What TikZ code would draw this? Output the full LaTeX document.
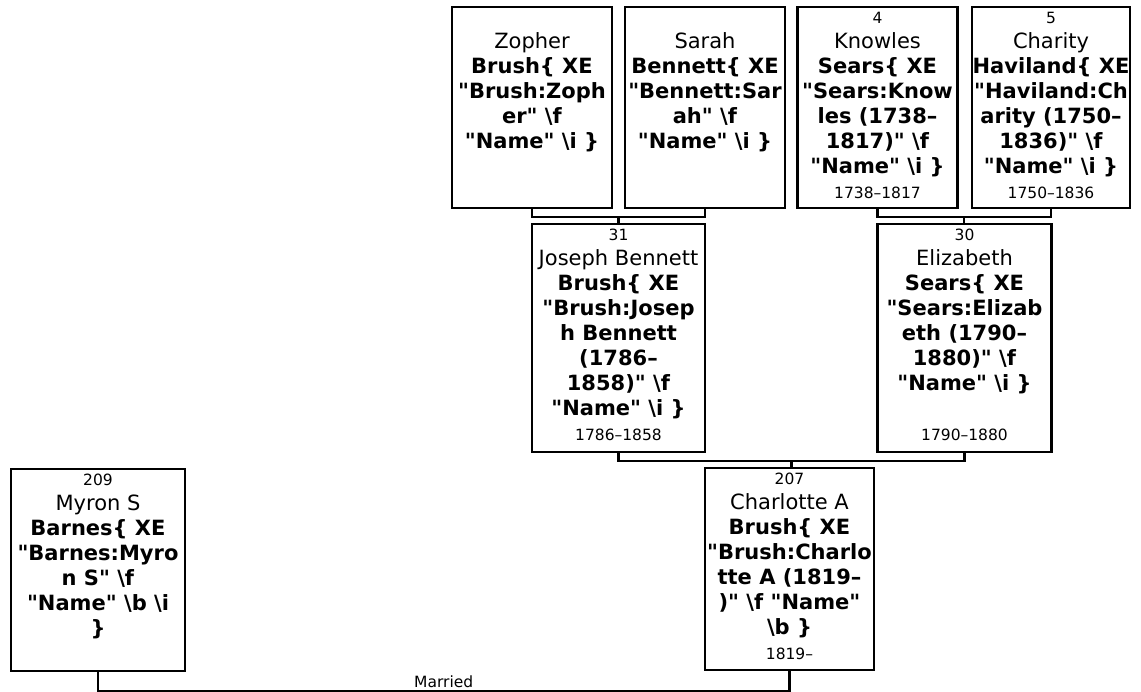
\documentclass[tikz,border=0pt]{standalone}
\usepackage{fontspec}
\setmainfont{DejaVu Sans}[Ligatures=TeXOff]
\usetikzlibrary{positioning,calc}

\newcommand\pnumfont{\fontsize{15.5}{25}\selectfont}
\newcommand\pnamefont{\fontsize{21}{25}\selectfont}
\newcommand\bsl{\textbackslash}
\newcommand\dq{\symbol{34}}
\newcommand\pnum[1]{\rule{0pt}{15pt}{\pnumfont #1}}
\newcommand\pdate[1]{{\pnumfont #1}}

\begin{document}
\begin{tikzpicture}[x=1pt, y=1pt,
    pbox/.style={rectangle, draw, line width=2.2pt, inner sep=0pt, minimum width=160pt},
    ptext/.style={align=center, inner sep=0pt, font=\pnamefont},
    conn/.style={line width=2.2pt}
]
    \useasboundingbox (0,0) rectangle (1141,692);

    % grandparents
    \node[pbox, minimum height=201pt] (zopher) at (532,584.5) {};
    \node[pbox, minimum height=201pt] (sarah) at (705,584.5) {};
    \node[pbox, minimum height=201pt] (knowles) at (877.5,584.5) {};
    \node[pbox, minimum height=201pt, minimum width=158pt] (charity) at (1051,584.5) {};

    \node[ptext, below=2pt of zopher.north] (zopher-t) {\pnum{}\\ Zopher\\
        \textbf{Brush\{ XE}\\ \textbf{\dq Brush:Zoph}\\ \textbf{er\dq\ \bsl{}f}\\
        \textbf{\dq Name\dq\ \bsl{}i \}}};
    \node[ptext, below=2pt of sarah.north] (sarah-t) {\pnum{}\\ Sarah\\
        \textbf{Bennett\{ XE}\\ \textbf{\dq Bennett:Sar}\\ \textbf{ah\dq\ \bsl{}f}\\
        \textbf{\dq Name\dq\ \bsl{}i \}}};
    \node[ptext, below=2pt of knowles.north] (knowles-t) {\pnum{4}\\ Knowles\\
        \textbf{Sears\{ XE}\\ \textbf{\dq Sears:Know}\\ \textbf{les (1738–}\\
        \textbf{1817)\dq\ \bsl{}f}\\ \textbf{\dq Name\dq\ \bsl{}i \}}\\ \pdate{1738–1817}};
    \node[ptext, below=2pt of charity.north] (charity-t) {\pnum{5}\\ Charity\\
        \textbf{Haviland\{ XE}\\ \textbf{\dq Haviland:Ch}\\ \textbf{arity (1750–}\\
        \textbf{1836)\dq\ \bsl{}f}\\ \textbf{\dq Name\dq\ \bsl{}i \}}\\ \pdate{1750–1836}};

    % parents
    \node[pbox, minimum height=228pt, minimum width=173pt] (joseph) at (618.5,354) {};
    \node[pbox, minimum height=228pt, minimum width=174pt] (elizabeth) at (964.5,354) {};

    \node[ptext, below=2pt of joseph.north] (joseph-t) {\pnum{31}\\ Joseph Bennett\\
        \textbf{Brush\{ XE}\\ \textbf{\dq Brush:Josep}\\ \textbf{h Bennett}\\
        \textbf{(1786–}\\ \textbf{1858)\dq\ \bsl{}f}\\ \textbf{\dq Name\dq\ \bsl{}i \}}\\
        \pdate{1786–1858}};
    \node[ptext, below=2pt of elizabeth.north] (elizabeth-t) {\pnum{30}\\ Elizabeth\\
        \textbf{Sears\{ XE}\\ \textbf{\dq Sears:Elizab}\\ \textbf{eth (1790–}\\
        \textbf{1880)\dq\ \bsl{}f}\\ \textbf{\dq Name\dq\ \bsl{}i \}}\\ \\ \pdate{1790–1880}};

    % couple
    \node[pbox, minimum height=202pt, minimum width=174pt] (myron) at (98,122) {};
    \node[pbox, minimum height=202pt, minimum width=169pt] (charlotte) at (789.5,123) {};

    \node[ptext, below=2pt of myron.north] (myron-t) {\pnum{209}\\ Myron S\\
        \textbf{Barnes\{ XE}\\ \textbf{\dq Barnes:Myro}\\ \textbf{n S\dq\ \bsl{}f}\\
        \textbf{\dq Name\dq\ \bsl{}b \bsl{}i}\\ \textbf{\}}};
    \node[ptext, below=2pt of charlotte.north] (charlotte-t) {\pnum{207}\\ Charlotte A\\
        \textbf{Brush\{ XE}\\ \textbf{\dq Brush:Charlo}\\ \textbf{tte A (1819–}\\
        \textbf{)\dq\ \bsl{}f \dq Name\dq}\\ \textbf{\bsl{}b \}}\\ \pdate{1819–}};

    % family lines
    \draw[conn] (zopher.south) -- ++(0,-8) -| (sarah.south);
    \coordinate (zs) at ($(zopher.south)!0.5!(sarah.south)+(0,-8)$);
    \draw[conn] (zs) -- (zs |- joseph.north);

    \draw[conn] (knowles.south) -- ++(0,-8) -| (charity.south);
    \coordinate (kc) at ($(knowles.south)!0.5!(charity.south)+(0,-8)$);
    \draw[conn] (kc) -- (kc |- elizabeth.north);

    \draw[conn] (joseph.south) -- ++(0,-8) -| (elizabeth.south);
    \coordinate (je) at ($(joseph.south)!0.5!(elizabeth.south)+(0,-8)$);
    \draw[conn] (je) -- (je |- charlotte.north);

    \draw[conn] (myron.south) -- ++(0,-19) -| node[pos=0.25, above, inner sep=2pt,
        font=\pnumfont] (married) {Married} (charlotte.south);
\end{tikzpicture}
\end{document}
